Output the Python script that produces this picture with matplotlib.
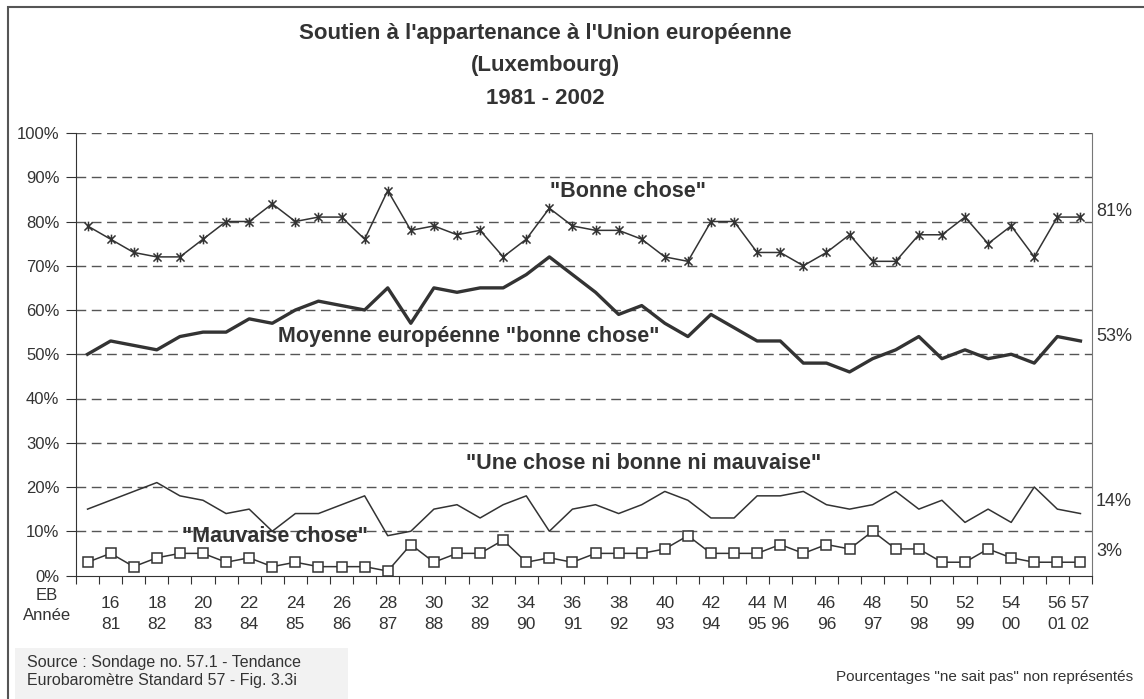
import numpy as np
import matplotlib
matplotlib.use('Agg')
import matplotlib.pyplot as plt
from matplotlib.path import Path
from matplotlib.patches import Rectangle

plt.rcParams['font.family'] = ['Liberation Sans', 'DejaVu Sans']

# numéros d'enquête EB et années (une colonne par vague)
eb = ['', '16', '', '18', '', '20', '', '22', '', '24', '', '26', '', '28', '',
      '30', '', '32', '', '34', '', '36', '', '38', '', '40', '', '42', '', '44',
      'M', '', '46', '', '48', '', '50', '', '52', '', '54', '', '56', '57']
annee = ['', '81', '', '82', '', '83', '', '84', '', '85', '', '86', '', '87', '',
         '88', '', '89', '', '90', '', '91', '', '92', '', '93', '', '94', '', '95',
         '96', '', '96', '', '97', '', '98', '', '99', '', '00', '', '01', '02']

bonne = [79, 76, 73, 72, 72, 76, 80, 80, 84, 80, 81, 81, 76, 87, 78,
         79, 77, 78, 72, 76, 83, 79, 78, 78, 76, 72, 71, 80, 80, 73,
         73, 70, 73, 77, 71, 71, 77, 77, 81, 75, 79, 72, 81, 81]
moyenne_ue = [50, 53, 52, 51, 54, 55, 55, 58, 57, 60, 62, 61, 60, 65, 57,
              65, 64, 65, 65, 68, 72, 68, 64, 59, 61, 57, 54, 59, 56, 53,
              53, 48, 48, 46, 49, 51, 54, 49, 51, 49, 50, 48, 54, 53]
ni_ni = [15, 17, 19, 21, 18, 17, 14, 15, 10, 14, 14, 16, 18, 9, 10,
         15, 16, 13, 16, 18, 10, 15, 16, 14, 16, 19, 17, 13, 13, 18,
         18, 19, 16, 15, 16, 19, 15, 17, 12, 15, 12, 20, 15, 14]
mauvaise = [3, 5, 2, 4, 5, 5, 3, 4, 2, 3, 2, 2, 2, 1, 7,
            3, 5, 5, 8, 3, 4, 3, 5, 5, 5, 6, 9, 5, 5, 5,
            7, 5, 7, 6, 10, 6, 6, 3, 3, 6, 4, 3, 3, 3]

gris = '#333333'
x = np.arange(len(bonne))

# marqueur étoile : croix + trait vertical
etoile = Path([(-1, -1), (1, 1), (-1, 1), (1, -1), (0, -1.2), (0, 1.2)],
              [Path.MOVETO, Path.LINETO, Path.MOVETO, Path.LINETO,
               Path.MOVETO, Path.LINETO])

fig = plt.figure(figsize=(11.44, 6.99), dpi=100)
W, H = 1144, 699
ax = fig.add_axes([76 / W, 1 - 575.5 / H, (1092 - 76) / W, (575.5 - 133) / H])

for y in range(10, 101, 10):
    ax.axhline(y, color='#555555', lw=1, dashes=(7, 4), zorder=1)

ax.plot(x, bonne, color=gris, lw=1.1, marker=etoile, ms=7, mew=1.1,
        mec=gris, zorder=3)
ax.plot(x, moyenne_ue, color=gris, lw=2.4, zorder=3)
ax.plot(x, ni_ni, color=gris, lw=1.1, zorder=3)
ax.plot(x, mauvaise, color=gris, lw=1.1, marker='s', ms=6.5, mfc='white',
        mec=gris, mew=1.1, zorder=3)

ax.set_xlim(-0.5, len(x) - 0.5)
ax.set_ylim(0, 100)
ax.set_yticks(range(0, 101, 10))
ax.set_yticklabels([f'{v}%' for v in range(0, 101, 10)])
ax.set_xticks(np.arange(-0.5, len(x), 1))
ax.set_xticklabels([])
pos = [i for i in x if eb[i]]
ax.set_xticks(pos, minor=True)
ax.set_xticklabels([f'{eb[i]}\n{annee[i]}' for i in pos], minor=True,
                   linespacing=1.5)
ax.tick_params(axis='x', which='major', length=6, color=gris)
ax.tick_params(axis='x', which='minor', length=0, pad=15, labelsize=12.5,
               labelcolor=gris)
ax.tick_params(axis='y', length=7, color=gris, labelsize=12, labelcolor=gris,
               pad=5)
ax.spines['top'].set_visible(False)
ax.spines['left'].set_color(gris)
ax.spines['bottom'].set_color(gris)
ax.spines['right'].set_color('#777777')

# étiquettes des séries
lab = dict(color=gris, fontsize=15.5, fontweight='bold', ha='center', va='center')
ax.text(23.4, 86.7, '"Bonne chose"', **lab)
ax.text(16.5, 54.0, 'Moyenne européenne "bonne chose"', **lab)
ax.text(24.1, 25.4, '"Une chose ni bonne ni mauvaise"', **lab)
ax.text(8.1, 8.8, '"Mauvaise chose"', **lab)

# dernières valeurs à droite
for serie, yl in [(bonne, 82.2), (moyenne_ue, 54.0), (ni_ni, 16.7), (mauvaise, 5.4)]:
    ax.text(1.004, yl, f'{serie[-1]}%', transform=ax.get_yaxis_transform(),
            ha='left', va='center', fontsize=13, color=gris)

fig.text(47 / W, 1 - 596 / H, 'EB', ha='center', va='center', fontsize=12, color=gris)
fig.text(47 / W, 1 - 615 / H, 'Année', ha='center', va='center', fontsize=12, color=gris)

tit = dict(ha='center', va='center', fontsize=16, fontweight='bold', color=gris)
fig.text(545 / W, 1 - 33 / H, "Soutien à l'appartenance à l'Union européenne", **tit)
fig.text(545 / W, 1 - 66 / H, '(Luxembourg)', **tit)
fig.text(545 / W, 1 - 99 / H, '1981 - 2002', **tit)

# cadre extérieur et encadré source
fig.patches.append(Rectangle((8 / W, -0.05), 1.1, 1 - 7 / H + 0.05,
                             transform=fig.transFigure, fill=False,
                             ec='#555555', lw=1.5))
fig.patches.append(Rectangle((15 / W, 0), (348 - 15) / W, (699 - 648) / H,
                             transform=fig.transFigure, fc='#f2f2f2', ec='none'))
fig.text(27 / W, 1 - 662 / H, 'Source : Sondage no. 57.1 - Tendance',
         ha='left', va='center', fontsize=11.5, color=gris)
fig.text(27 / W, 1 - 681 / H, 'Eurobaromètre Standard 57 - Fig. 3.3i',
         ha='left', va='center', fontsize=11.5, color=gris)
fig.text(1133 / W, 1 - 677 / H, 'Pourcentages "ne sait pas" non représentés',
         ha='right', va='center', fontsize=11, color=gris)

fig.savefig('out.png', dpi=100)
